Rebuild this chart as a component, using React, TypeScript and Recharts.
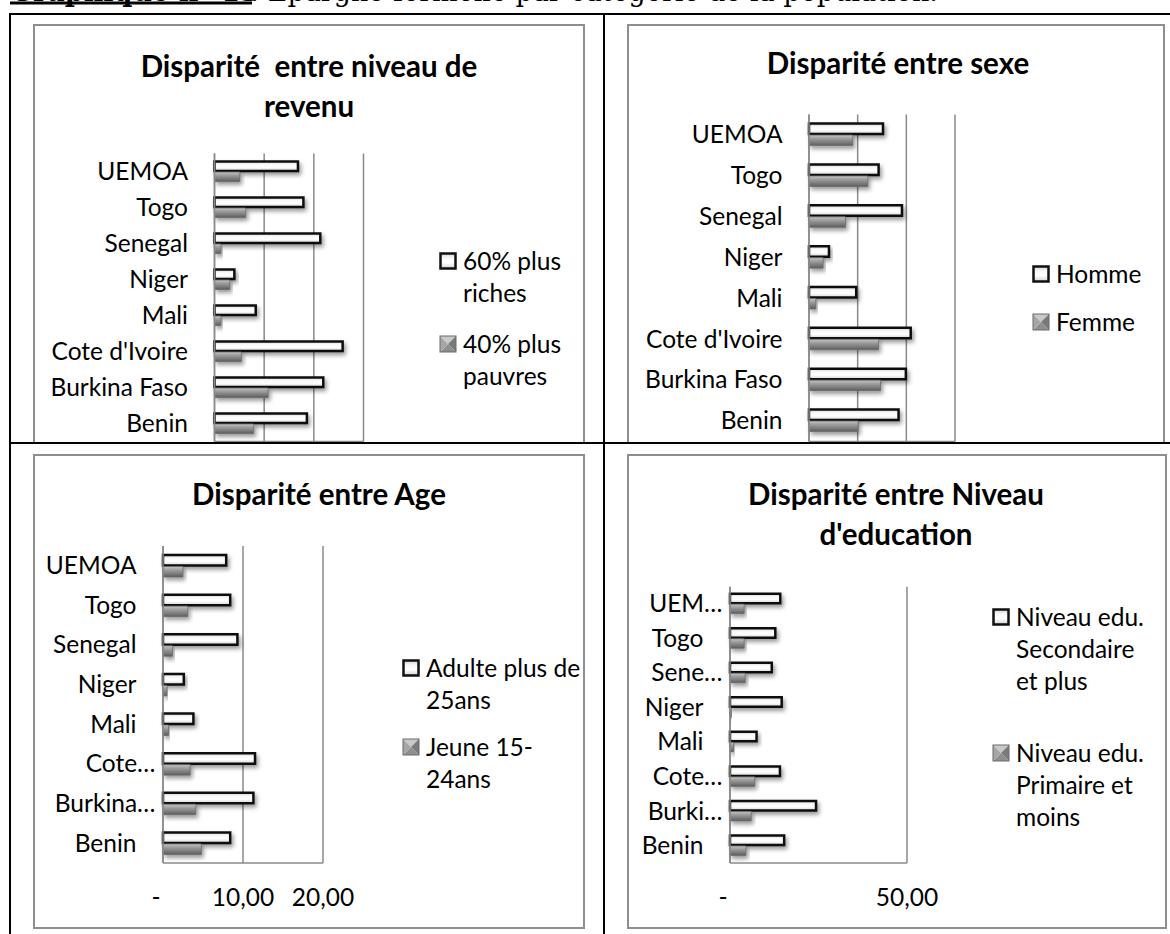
import React from 'react';
import { BarChart, Bar, XAxis, YAxis, CartesianGrid, Legend } from 'recharts';

// categories, top to bottom as they appear
const countries = ['UEMOA', 'Togo', 'Senegal', 'Niger', 'Mali', "Cote d'Ivoire", 'Burkina Faso', 'Benin'];
const countriesAge = ['UEMOA', 'Togo', 'Senegal', 'Niger', 'Mali', 'Cote…', 'Burkina…', 'Benin'];
const countriesEdu = ['UEM…', 'Togo', 'Sene…', 'Niger', 'Mali', 'Cote…', 'Burki…', 'Benin'];

// Disparité entre niveau de revenu
const riches60 = [16.8, 17.9, 21.3, 4.0, 8.3, 25.8, 21.9, 18.6];
const pauvres40 = [5.1, 6.3, 1.3, 3.1, 1.3, 5.4, 10.8, 7.9];

// Disparité entre sexe
const homme = [15.2, 14.3, 19.1, 4.1, 9.7, 20.9, 19.9, 18.4];
const femme = [9.0, 12.1, 7.5, 2.9, 1.4, 14.3, 14.7, 10.1];

// Disparité entre Age
const adulte25 = [7.9, 8.4, 9.3, 2.6, 3.8, 11.5, 11.3, 8.4];
const jeune1524 = [2.5, 3.1, 1.2, 0.5, 0.7, 3.4, 4.1, 4.8];

// Disparité entre Niveau d'education
const eduSecondaire = [14.2, 12.8, 11.8, 14.6, 7.5, 14.1, 24.3, 15.3];
const eduPrimaire = [4.0, 4.0, 4.3, 0.4, 1.0, 7.0, 6.0, 4.5];

const ticksRevenu = [0, 10, 20, 30];
const ticksSexe = [0, 10, 20, 30];
const ticksAge = [0, 10, 20];
const ticksEdu = [0, 50];

const FONT = 'Lato, "Open Sans", sans-serif';
const LABEL_SIZE = 24.5;
const GRID = '#8a8a8a';

const fmtTick = (v: number) => (v === 0 ? '-' : v.toFixed(2).replace('.', ','));

const YTick = (props: any) => {
  const { x, y, payload } = props;
  const label = String(payload.value);
  const cut = label.endsWith('…');
  return (
    <text x={x - (cut ? 7.5 : 26.5)} y={y} dy={LABEL_SIZE * 0.34} textAnchor="end"
      fontFamily={FONT} fontSize={LABEL_SIZE} fill="#000">
      {label}
    </text>
  );
};

const XTick = (props: any) => {
  const { x, y, payload } = props;
  const v = Number(payload.value);
  return (
    <text x={x + (v === 0 ? -7 : 0)} y={y} dy={35 + LABEL_SIZE * 0.34} textAnchor="middle"
      fontFamily={FONT} fontSize={LABEL_SIZE} fill="#000">
      {fmtTick(v)}
    </text>
  );
};

// top row: the x labels fall under the table line, so nothing is drawn
const NoTick = () => <g />;

const WhiteMark = () => (
  <svg width={18} height={18} style={{ position: 'absolute', left: 0, top: 0 }}>
    <rect x={1.5} y={1.5} width={15} height={15} fill="url(#barWhite)" stroke="#111" strokeWidth={2.5} />
  </svg>
);

const GrayMark = () => (
  <svg width={18} height={18} style={{ position: 'absolute', left: 0, top: 0 }}>
    <polygon points="1,1 17,1 9,9" fill="#c9c9c9" />
    <polygon points="1,17 17,17 9,9" fill="#8f8f8f" />
    <polygon points="1,1 1,17 9,9" fill="#a6a6a6" />
    <polygon points="17,1 17,17 9,9" fill="#7a7a7a" />
    <rect x={1} y={1} width={16} height={16} fill="none" stroke="#6a6a6a" strokeWidth={1} />
  </svg>
);

type LegendRow = { lines: string[]; y: number };

const LegendBox = ({ markX, rows }: { markX: number; rows: LegendRow[] }) => (
  <div style={{ position: 'relative', width: 1, height: 1 }}>
    {rows.map((row, i) => (
      <div key={i} style={{ position: 'absolute', left: markX, top: row.y - 16 }}>
        <div style={{ position: 'absolute', left: 0, top: 7 }}>{i === 0 ? <WhiteMark /> : <GrayMark />}</div>
        {row.lines.map((ln, j) => (
          <div key={j} style={{
            position: 'absolute', left: 24, top: j * 32, whiteSpace: 'nowrap',
            fontFamily: FONT, fontSize: LABEL_SIZE, lineHeight: '32px', color: '#000',
          }}>{ln}</div>
        ))}
      </div>
    ))}
  </div>
);

type PanelCfg = {
  frame: { x: number; y: number; w: number; h: number };
  plot: { left: number; top: number; width: number; height: number };
  barSize: number;
  labels: string[];
  a: number[];
  b: number[];
  names: [string, string];
  ticks: number[];
  showXLabels: boolean;
  title: string[];
  titleX: number;
  titleY: number;
  markX: number;
  legend: LegendRow[];
};

function Panel({ cfg }: { cfg: PanelCfg }) {
  const { frame, plot } = cfg;
  const data = cfg.labels.map((name, i) => ({ name, a: cfg.a[i], b: cfg.b[i] }));
  const xAxisH = frame.h - plot.top - plot.height;
  const max = cfg.ticks[cfg.ticks.length - 1];

  // vertical gridlines at every tick, through the axis scale
  const gridX = ({ xAxis, offset }: any) => {
    const sc = xAxis && xAxis.scale;
    if (typeof sc === 'function') return cfg.ticks.map((t) => sc(t));
    return cfg.ticks.map((t) => offset.left + (t / max) * offset.width);
  };

  return (
    <div style={{ position: 'absolute', left: frame.x, top: frame.y, width: frame.w, height: frame.h }}>
      <BarChart
        width={frame.w}
        height={frame.h}
        data={data}
        layout="vertical"
        margin={{ top: plot.top, right: frame.w - plot.left - plot.width, bottom: 0, left: 0 }}
        barGap={1}
        barSize={cfg.barSize}
      >
        <CartesianGrid horizontal={false} stroke={GRID} strokeWidth={1.5} verticalCoordinatesGenerator={gridX} />
        <XAxis type="number" domain={[0, max]} ticks={cfg.ticks} interval={0} height={xAxisH}
          axisLine={{ stroke: GRID, strokeWidth: 1.5 }} tickLine={false} tickSize={0} tickMargin={0}
          tick={cfg.showXLabels ? XTick : NoTick} />
        <YAxis type="category" dataKey="name" width={plot.left} interval={0}
          axisLine={{ stroke: GRID, strokeWidth: 1.5 }} tickLine={false} tickSize={0} tickMargin={0}
          tick={YTick} />
        <Legend layout="horizontal" verticalAlign="middle" align="center"
          wrapperStyle={{ left: 0, top: 0, width: 1, height: 1 }}
          content={() => <LegendBox markX={cfg.markX} rows={cfg.legend} />} />
        <Bar dataKey="a" name={cfg.names[0]} fill="url(#barWhite)" stroke="#111" strokeWidth={2.5}
          filter="url(#barShadow)" isAnimationActive={false} />
        <Bar dataKey="b" name={cfg.names[1]} fill="url(#barGray)" stroke="#6a6a6a" strokeWidth={0.8}
          filter="url(#barShadow)" isAnimationActive={false} />
      </BarChart>
      <div style={{
        position: 'absolute', left: cfg.titleX - 300, width: 600, top: cfg.titleY - 20,
        textAlign: 'center', fontFamily: FONT, fontWeight: 700, fontSize: 29.5, lineHeight: '40px',
        color: '#000', whiteSpace: 'pre',
      }}>
        {cfg.title.map((t, i) => <div key={i}>{t}</div>)}
      </div>
      <div style={{ position: 'absolute', inset: 0, border: '2px solid #8e8e8e', boxSizing: 'border-box', pointerEvents: 'none' }} />
    </div>
  );
}

const revenuCfg: PanelCfg = {
  frame: { x: 22.5, y: 9.5, w: 552, h: 475 },
  plot: { left: 181.5, top: 129.5, width: 149, height: 288 },
  barSize: 9.5,
  labels: countries,
  a: riches60,
  b: pauvres40,
  names: ['60% plus riches', '40% plus pauvres'],
  ticks: ticksRevenu,
  showXLabels: false,
  title: ['Disparité  entre niveau de', 'revenu'],
  titleX: 276,
  titleY: 42,
  markX: 406,
  legend: [
    { lines: ['60% plus', 'riches'], y: 237 },
    { lines: ['40% plus', 'pauvres'], y: 319.5 },
  ],
};

const sexeCfg: PanelCfg = {
  frame: { x: 22, y: 9.5, w: 538, h: 475 },
  plot: { left: 182, top: 90.6, width: 146, height: 326.8 },
  barSize: 10.5,
  labels: countries,
  a: homme,
  b: femme,
  names: ['Homme', 'Femme'],
  ticks: ticksSexe,
  showXLabels: false,
  title: ['Disparité entre sexe'],
  titleX: 271,
  titleY: 39,
  markX: 405,
  legend: [
    { lines: ['Homme'], y: 249.6 },
    { lines: ['Femme'], y: 298 },
  ],
};

const ageCfg: PanelCfg = {
  frame: { x: 33, y: 454, w: 552, h: 475 },
  plot: { left: 130, top: 92, width: 160, height: 317 },
  barSize: 10.5,
  labels: countriesAge,
  a: adulte25,
  b: jeune1524,
  names: ['Adulte plus de 25ans', 'Jeune 15-24ans'],
  ticks: ticksAge,
  showXLabels: true,
  title: ['Disparité entre Age'],
  titleX: 286,
  titleY: 40,
  markX: 369,
  legend: [
    { lines: ['Adulte plus de', '25ans'], y: 214 },
    { lines: ['Jeune 15-', '24ans'], y: 292.7 },
  ],
};

const eduCfg: PanelCfg = {
  frame: { x: 627, y: 454, w: 540, h: 475 },
  plot: { left: 103, top: 132.7, width: 177, height: 276.3 },
  barSize: 9.5,
  labels: countriesEdu,
  a: eduSecondaire,
  b: eduPrimaire,
  names: ['Niveau edu. Secondaire et plus', 'Niveau edu. Primaire et moins'],
  ticks: ticksEdu,
  showXLabels: true,
  title: ['Disparité entre Niveau', "d'education"],
  titleX: 269,
  titleY: 40,
  markX: 365,
  legend: [
    { lines: ['Niveau edu.', 'Secondaire', 'et plus'], y: 162.7 },
    { lines: ['Niveau edu.', 'Primaire et', 'moins'], y: 299 },
  ],
};

export default function App() {
  return (
    <div style={{ position: 'absolute', left: 0, top: 0, width: 1170, height: 934, overflow: 'hidden', background: '#fff' }}>
      <svg width={0} height={0} style={{ position: 'absolute' }}>
        <defs>
          <linearGradient id="barWhite" x1="0" y1="0" x2="0" y2="1">
            <stop offset="0" stopColor="#d2d2d2" />
            <stop offset="0.3" stopColor="#f8f8f8" />
            <stop offset="0.6" stopColor="#ffffff" />
            <stop offset="0.85" stopColor="#e4e4e4" />
            <stop offset="1" stopColor="#bcbcbc" />
          </linearGradient>
          <linearGradient id="barGray" x1="0" y1="0" x2="0" y2="1">
            <stop offset="0" stopColor="#c4c4c4" />
            <stop offset="0.35" stopColor="#9c9c9c" />
            <stop offset="0.7" stopColor="#7b7b7b" />
            <stop offset="1" stopColor="#5c5c5c" />
          </linearGradient>
          <filter id="barShadow" x="-10%" y="-60%" width="130%" height="280%">
            <feDropShadow dx="2" dy="3" stdDeviation="2" floodColor="#000" floodOpacity="0.4" />
          </filter>
        </defs>
      </svg>

      {/* caption above the table, mostly cut off by the page top */}
      <svg width={1170} height={12} style={{ position: 'absolute', left: 0, top: 0 }}>
        <text y={1} fontFamily='"DejaVu Serif", serif' fontSize={27} fill="#000">
          <tspan x={10} fontWeight={700}>Graphique n° 13</tspan>
          <tspan x={250}>: Épargne formelle par catégorie de la population.</tspan>
        </text>
        <rect x={10} y={1.5} width={242} height={3} fill="#000" />
      </svg>

      {/* table cells */}
      <div style={{ position: 'absolute', left: 10.5, top: 14.5, width: 592.5, height: 427, overflow: 'hidden' }}>
        <Panel cfg={revenuCfg} />
      </div>
      <div style={{ position: 'absolute', left: 605, top: 14.5, width: 565, height: 427, overflow: 'hidden' }}>
        <Panel cfg={sexeCfg} />
      </div>
      <Panel cfg={ageCfg} />
      <Panel cfg={eduCfg} />

      {/* table borders */}
      <div style={{ position: 'absolute', left: 9, top: 12.5, width: 1161, height: 2, background: '#000' }} />
      <div style={{ position: 'absolute', left: 9, top: 441.5, width: 1161, height: 2, background: '#000' }} />
      <div style={{ position: 'absolute', left: 8.5, top: 12.5, width: 2, height: 922, background: '#000' }} />
      <div style={{ position: 'absolute', left: 603, top: 12.5, width: 2, height: 922, background: '#000' }} />
    </div>
  );
}
